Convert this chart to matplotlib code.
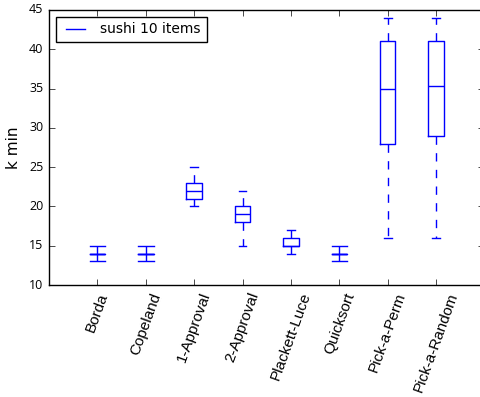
import matplotlib
matplotlib.use('Agg')
import matplotlib.pyplot as plt

# values
methods = ['Borda', 'Copeland', '1-Approval', '2-Approval', 'Plackett-Luce',
           'Quicksort', 'Pick-a-Perm', 'Pick-a-Random']
whislo = [13, 13, 20, 15, 14, 13, 16, 16]
q1 = [14, 14, 21, 18, 15, 14, 28, 29]
med = [14, 14, 22, 19, 15, 14, 35, 35.3]
q3 = [14, 14, 23, 20, 16, 14, 41, 41]
whishi = [15, 15, 25, 22, 17, 15, 44, 44]

plt.style.use('classic')

stats = []
for i, m in enumerate(methods):
    stats.append({'label': m, 'whislo': whislo[i], 'q1': q1[i], 'med': med[i],
                  'q3': q3[i], 'whishi': whishi[i], 'fliers': []})

# degenerate boxes get full-width caps, as in the reference
capw = [0.32 if q1[i] == q3[i] else 0.16 for i in range(len(methods))]

fig = plt.figure(figsize=(4.81, 3.97), dpi=100)
ax = fig.add_axes([0.102, 0.282, 0.905, 0.693])

ax.bxp(stats, widths=0.32, capwidths=capw, showfliers=False,
       boxprops=dict(color='b'), medianprops=dict(color='b'),
       whiskerprops=dict(color='b', linestyle='--'), capprops=dict(color='b'))
ax.plot([], [], 'b-', label='sushi 10 items')

ax.set_xlim(0, 9)
ax.set_ylim(10, 45)
ax.set_xticks(range(1, len(methods) + 1))
ax.set_xticklabels(methods, rotation=70, fontsize=11, family='Liberation Sans')
for t in ax.get_yticklabels():
    t.set_family('Open Sans')
    t.set_fontsize(9)
ax.set_ylabel('k min', fontsize=11, labelpad=6)
ax.legend(loc='upper left', fontsize=10)

fig.savefig('out.png', dpi=100)
